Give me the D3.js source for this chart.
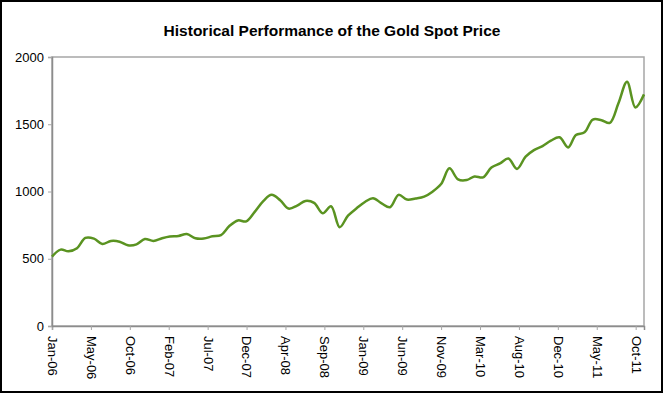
<!DOCTYPE html>
<html>
<head>
<meta charset="utf-8">
<script src="https://cdn.jsdelivr.net/npm/d3@7"></script>
<style>
  body { margin: 0; background: #fff; }
  text { font-family: "Liberation Sans", Arial, sans-serif; }
</style>
</head>
<body>
<svg id="chart" width="665" height="394"></svg>
<script>
// gold spot price, first of each month, Jan-06 .. Nov-11
var prices = [
  516, 568, 555, 578, 655, 650, 610, 632, 627, 600, 607, 647,
  632, 652, 665, 669, 684, 652, 650, 667, 676, 743, 785, 778,
  850, 930, 975, 935, 873, 895, 930, 915, 838, 890, 735, 820,
  875, 924, 950, 912, 883, 975, 940, 948, 962, 999, 1056, 1172,
  1090, 1085, 1112, 1105, 1178, 1209, 1245, 1168, 1259, 1308, 1338, 1378,
  1403, 1328, 1420, 1440, 1535, 1530, 1510, 1656, 1816, 1625, 1722
];
var firstMonth = new Date(Date.UTC(2006, 0, 1));
var months = prices.map(function(d, i) { return d3.utcMonth.offset(firstMonth, i); });

var yTicks = [0, 500, 1000, 1500, 2000];
var xTickLabels = ["Jan-06", "May-06", "Oct-06", "Feb-07", "Jul-07", "Dec-07", "Apr-08", "Sep-08",
                   "Jan-09", "Jun-09", "Nov-09", "Mar-10", "Aug-10", "Dec-10", "May-11", "Oct-11"];
var tickStepDays = 140;

var margin = { left: 52, right: 21, top: 57, bottom: 68 };
var width = 665 - margin.left - margin.right;
var height = 394 - margin.top - margin.bottom;

var svg = d3.select("#chart");

// outer frame
svg.append("rect")
    .attr("x", 1).attr("y", 1)
    .attr("width", 661).attr("height", 391)
    .attr("fill", "#fff")
    .attr("stroke", "#000")
    .attr("stroke-width", 2);

svg.append("text")
    .attr("x", 332).attr("y", 36)
    .attr("text-anchor", "middle")
    .attr("font-size", 15.5)
    .attr("font-weight", "bold")
    .text("Historical Performance of the Gold Spot Price");

var g = svg.append("g").attr("transform", "translate(" + margin.left + "," + margin.top + ")");

var x = d3.scaleUtc()
    .domain([months[0], months[months.length - 1]])
    .range([0, width]);
var y = d3.scaleLinear().domain([0, 2000]).range([height, 0]);

// plot area border
g.append("rect")
    .attr("width", width).attr("height", height)
    .attr("fill", "none")
    .attr("stroke", "#a6a6a6")
    .attr("stroke-width", 1.5);

var tickDates = xTickLabels.map(function(d, i) { return d3.utcDay.offset(firstMonth, i * tickStepDays); });

var xAxis = g.append("g")
    .attr("transform", "translate(0," + height + ")")
    .call(d3.axisBottom(x).tickValues(tickDates).tickSize(4).tickFormat(function(d, i) { return xTickLabels[i]; }));
xAxis.select(".domain").attr("stroke", "#8c8c8c").attr("stroke-width", 1.5);
xAxis.selectAll(".tick line").attr("stroke", "#a6a6a6");
xAxis.selectAll(".tick text")
    .attr("font-size", 13)
    .attr("fill", "#000")
    .attr("text-anchor", "start")
    .attr("x", 0).attr("y", 0)
    .attr("dy", "0.35em")
    .attr("transform", "translate(0,10) rotate(90)");

var yAxis = g.append("g")
    .call(d3.axisLeft(y).tickValues(yTicks).tickSize(4).tickPadding(4).tickFormat(d3.format("d")));
yAxis.select(".domain").attr("stroke", "#8c8c8c").attr("stroke-width", 1.5);
yAxis.selectAll(".tick line").attr("stroke", "#a6a6a6");
yAxis.selectAll(".tick text").attr("font-size", 13).attr("fill", "#000");

var line = d3.line()
    .x(function(d, i) { return x(months[i]); })
    .y(function(d) { return y(d); })
    .curve(d3.curveCatmullRom);

g.append("path")
    .datum(prices)
    .attr("fill", "none")
    .attr("stroke", "#5a9321")
    .attr("stroke-width", 2.5)
    .attr("d", line);
</script>
</body>
</html>
